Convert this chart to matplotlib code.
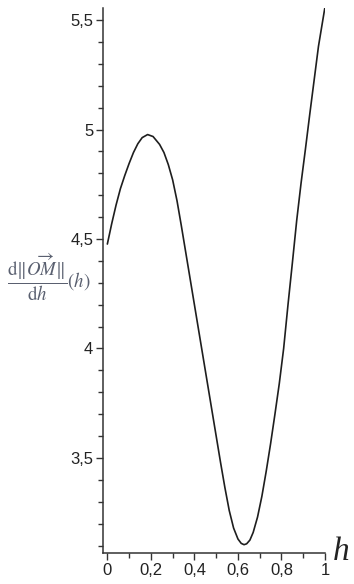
import matplotlib
matplotlib.use("Agg")
import matplotlib.pyplot as plt
from matplotlib.ticker import MultipleLocator, FuncFormatter

h_vals = [0, 0.02, 0.04, 0.06, 0.08, 0.10, 0.12, 0.14, 0.16, 0.185, 0.21,
          0.24, 0.26, 0.28, 0.30, 0.32, 0.34, 0.36, 0.38, 0.40, 0.42, 0.44,
          0.46, 0.48, 0.50, 0.52, 0.54, 0.56, 0.58, 0.60, 0.615, 0.628,
          0.64, 0.655, 0.67, 0.69, 0.71, 0.73, 0.75, 0.77, 0.79, 0.81, 0.83,
          0.85, 0.87, 0.89, 0.91, 0.93, 0.95, 0.97, 0.985, 1.0]
dOM_vals = [4.477, 4.57, 4.655, 4.73, 4.79, 4.845, 4.895, 4.935, 4.963, 4.977,
            4.968, 4.932, 4.895, 4.84, 4.77, 4.675, 4.56, 4.44, 4.32, 4.20,
            4.08, 3.96, 3.84, 3.72, 3.60, 3.48, 3.365, 3.26, 3.18, 3.13,
            3.11, 3.104, 3.108, 3.125, 3.16, 3.23, 3.325, 3.44, 3.565, 3.70,
            3.84, 4.00, 4.20, 4.39, 4.585, 4.755, 4.91, 5.07, 5.225, 5.38,
            5.47, 5.56]

x_ticks = [0, 0.2, 0.4, 0.6, 0.8, 1]
y_ticks = [3.5, 4, 4.5, 5, 5.5]

plt.rcParams['mathtext.fontset'] = 'stix'

fig = plt.figure(figsize=(3.54, 5.84), dpi=100)
ax = fig.add_axes([103/354, 31/584, 222/354, 545/584])

ax.plot(h_vals, dOM_vals, color='#1e1e1e', lw=1.2,
        solid_joinstyle='round', solid_capstyle='round')

ax.set_xlim(-0.02, 1.0)
ax.set_ylim(3.066, 5.555)

for s in ['top', 'right']:
    ax.spines[s].set_visible(False)
for s in ['left', 'bottom']:
    ax.spines[s].set_color('#333333')
    ax.spines[s].set_linewidth(1.1)

ax.set_xticks(x_ticks)
ax.set_yticks(y_ticks)
ax.xaxis.set_minor_locator(MultipleLocator(0.1))
ax.yaxis.set_minor_locator(MultipleLocator(0.1))

fmt = FuncFormatter(lambda v, p: ('%g' % v).replace('.', ','))
ax.xaxis.set_major_formatter(fmt)
ax.yaxis.set_major_formatter(fmt)

ax.tick_params(which='major', length=5, width=1.0, color='#333333',
               labelsize=12, pad=2, labelcolor='#222222')
ax.tick_params(which='minor', length=3.5, width=1.0, color='#333333')
for lab in ax.get_xticklabels() + ax.get_yticklabels():
    lab.set_fontfamily('Liberation Sans')

fig.text(333/354, 24/584, 'h', fontfamily='Liberation Serif', style='italic',
         fontsize=24, color='#222222', ha='left', va='baseline')

fig.text(7/354, (584-277)/584,
         r'$\dfrac{\mathrm{d}\Vert\overrightarrow{OM}\Vert}{\mathrm{d}h}(h)$',
         fontsize=13.5, color='#5a6070', ha='left', va='center')

fig.savefig('out.png', dpi=100)
